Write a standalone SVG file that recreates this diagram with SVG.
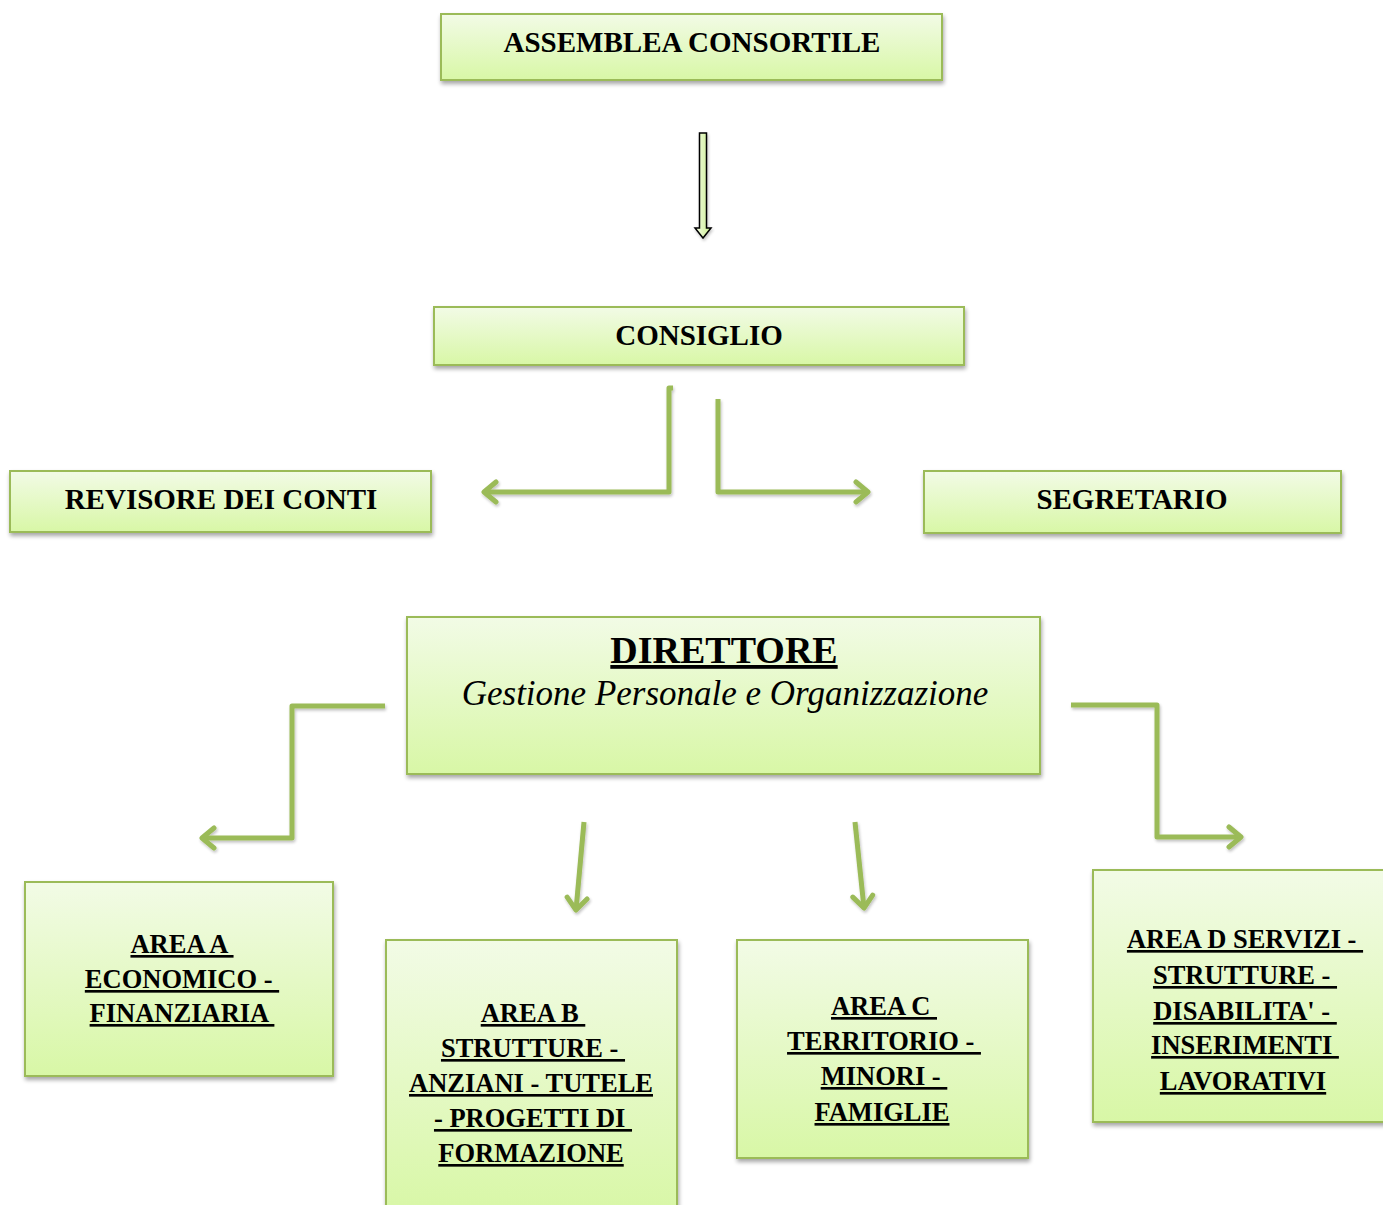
<svg xmlns="http://www.w3.org/2000/svg" width="1383" height="1205" viewBox="0 0 1383 1205">
<defs>
<linearGradient id="g" x1="0" y1="0" x2="0" y2="1">
<stop offset="0" stop-color="#f2fbe6"/>
<stop offset="1" stop-color="#d8f7a6"/>
</linearGradient>
<linearGradient id="ga" x1="0" y1="0" x2="1" y2="0">
<stop offset="0" stop-color="#f6fde9"/>
<stop offset="1" stop-color="#c9ee8c"/>
</linearGradient>
<filter id="sh" x="-5%" y="-10%" width="110%" height="125%">
<feGaussianBlur in="SourceAlpha" stdDeviation="2"/>
<feOffset dx="1" dy="3" result="b"/>
<feComponentTransfer><feFuncA type="linear" slope="0.35"/></feComponentTransfer>
<feMerge><feMergeNode/><feMergeNode in="SourceGraphic"/></feMerge>
</filter>
<filter id="lsh" x="-20%" y="-20%" width="140%" height="140%">
<feGaussianBlur in="SourceAlpha" stdDeviation="1.5"/>
<feOffset dx="1" dy="2" result="b"/>
<feComponentTransfer><feFuncA type="linear" slope="0.25"/></feComponentTransfer>
<feMerge><feMergeNode/><feMergeNode in="SourceGraphic"/></feMerge>
</filter>
<marker id="ah" viewBox="0 0 18 26" refX="15" refY="13" markerWidth="18" markerHeight="26" markerUnits="userSpaceOnUse" orient="auto">
<path d="M3,3 L15,13 L3,23" fill="none" stroke="#9bbb59" stroke-width="5" stroke-linecap="round" stroke-linejoin="round"/>
</marker>
</defs>
<style>
.box{fill:url(#g);stroke:#9bbb59;stroke-width:2;filter:url(#sh)}
.t{font-family:"Liberation Serif","Times New Roman",serif;font-weight:bold;fill:#000;text-anchor:middle}
.u{text-decoration:underline;text-decoration-thickness:2.5px;white-space:pre}
.c{fill:none;stroke:#9bbb59;stroke-width:5;stroke-linejoin:round;marker-end:url(#ah)}
</style>
<rect width="1383" height="1205" fill="#fff"/>

<g id="assemblea">
<rect class="box" x="441" y="14" width="501" height="66"/>
<text class="t" x="692" y="52" font-size="29">ASSEMBLEA CONSORTILE</text>
</g>

<g id="consiglio">
<rect class="box" x="434" y="307" width="530" height="58"/>
<text class="t" x="699" y="345" font-size="29">CONSIGLIO</text>
</g>

<g id="revisore">
<rect class="box" x="10" y="471" width="421" height="61"/>
<text class="t" x="221" y="509" font-size="29">REVISORE DEI CONTI</text>
</g>

<g id="segretario">
<rect class="box" x="924" y="471" width="417" height="62"/>
<text class="t" x="1132" y="509" font-size="29">SEGRETARIO</text>
</g>

<g id="direttore">
<rect class="box" x="407" y="617" width="633" height="157"/>
<text class="t u" x="724" y="663" font-size="38">DIRETTORE</text>
<text x="725" y="705" font-size="35" font-style="italic" text-anchor="middle" font-family="'Liberation Serif','Times New Roman',serif">Gestione Personale e Organizzazione</text>
</g>

<g id="area-a">
<rect class="box" x="25" y="882" width="308" height="194"/>
<text class="t u" font-size="26.5"><tspan x="182" y="953">AREA A </tspan><tspan x="182" y="988">ECONOMICO - </tspan><tspan x="182" y="1022">FINANZIARIA </tspan></text>
</g>

<g id="area-b">
<rect class="box" x="386" y="940" width="291" height="275"/>
<text class="t u" font-size="26.5"><tspan x="533" y="1022">AREA B </tspan><tspan x="533" y="1057">STRUTTURE - </tspan><tspan x="531" y="1092">ANZIANI - TUTELE</tspan><tspan x="533" y="1127">- PROGETTI DI </tspan><tspan x="531" y="1162">FORMAZIONE</tspan></text>
</g>

<g id="area-c">
<rect class="box" x="737" y="940" width="291" height="218"/>
<text class="t u" font-size="26.5"><tspan x="884" y="1015">AREA C </tspan><tspan x="884" y="1050">TERRITORIO - </tspan><tspan x="884" y="1085">MINORI - </tspan><tspan x="882" y="1121">FAMIGLIE</tspan></text>
</g>

<g id="area-d">
<rect class="box" x="1093" y="870" width="300" height="252"/>
<text class="t u" font-size="26.5"><tspan x="1245" y="948">AREA D SERVIZI - </tspan><tspan x="1245" y="984">STRUTTURE - </tspan><tspan x="1245" y="1020">DISABILITA' - </tspan><tspan x="1245" y="1054">INSERIMENTI </tspan><tspan x="1243" y="1090">LAVORATIVI</tspan></text>
</g>

<g id="connectors">
<path d="M699.5,133 h7 v95 h4.5 l-8,10 l-8,-10 h4.5 z" fill="url(#ga)" stroke="#000" stroke-width="1.5" filter="url(#lsh)"/>
<g filter="url(#lsh)">
<path class="c" d="M673,388 H669 V492 H484"/>
<path class="c" d="M718,399 V492 H868"/>
<path class="c" d="M385,706 H292 V838 H202"/>
<path class="c" d="M1071,705 H1157 V837 H1241"/>
<path class="c" d="M584,822 L576,910"/>
<path class="c" d="M855,822 L864,908"/>
</g>
</g>
</svg>
